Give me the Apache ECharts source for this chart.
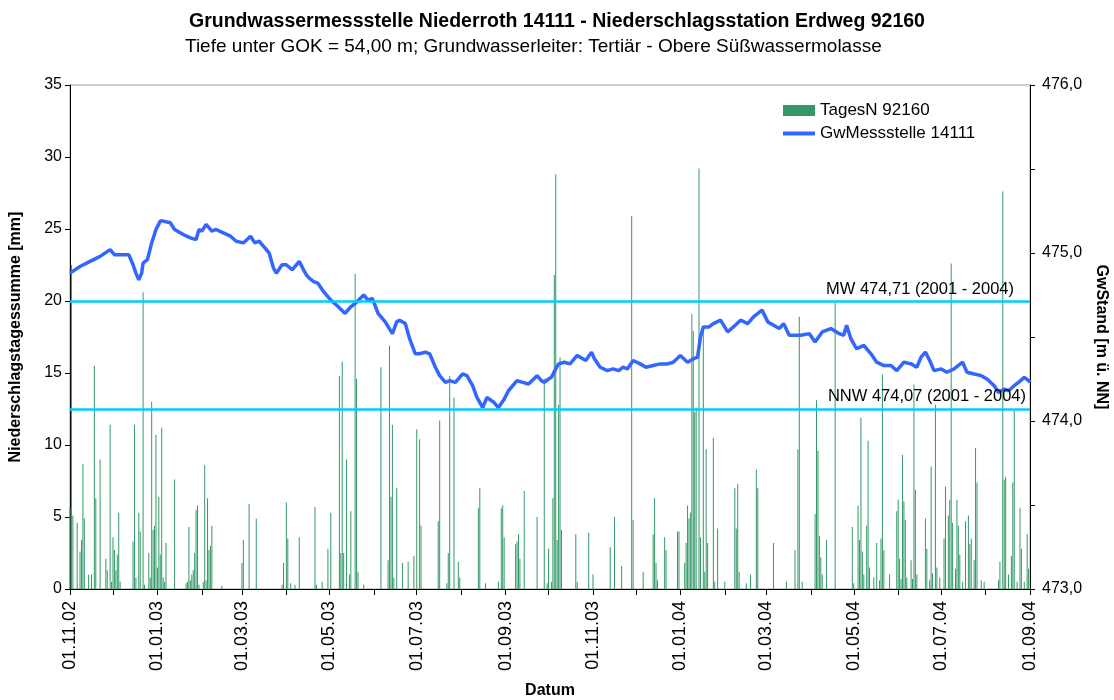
<!DOCTYPE html>
<html>
<head>
<meta charset="utf-8">
<script src="https://cdn.jsdelivr.net/npm/echarts@6/dist/echarts.min.js"></script>
<style>
  html, body { margin: 0; padding: 0; background: #fff; }
  #chart { width: 1114px; height: 700px; }
</style>
</head>
<body>
<div id="chart"></div>
<script>
// record runs daily from 01.11.2002 to 01.09.2004
const startDate = Date.UTC(2002, 10, 1);
const dayCount = 671;

// daily precipitation: [day since 01.11.02, mm]
const rain = [
  [0, 5.7], [1, 22.5], [2, 5.1], [5, 4.6], [7, 2.6], [8, 3.4], [9, 8.7], [10, 4.9], [13, 1.0], [15, 1.0],
  [17, 15.5], [18, 6.3], [21, 9.0], [25, 2.1], [26, 1.3], [28, 11.4], [29, 0.5], [30, 3.6], [31, 2.7], [32, 1.3],
  [33, 2.4], [34, 5.3], [35, 0.5], [44, 3.3], [45, 11.4], [46, 0.8], [48, 5.3], [49, 4.0], [51, 20.6], [52, 0.3],
  [55, 2.5], [56, 0.8], [57, 13.0], [58, 4.1], [59, 4.4], [60, 10.7], [61, 1.5], [62, 6.4], [63, 2.4], [64, 11.2],
  [65, 0.8], [66, 0.5], [67, 3.2], [73, 7.6], [81, 0.4], [82, 0.5], [83, 4.3], [84, 0.6], [85, 1.0], [86, 1.3],
  [87, 2.5], [88, 5.5], [89, 5.8], [90, 0.3], [93, 0.5], [94, 8.6], [95, 0.6], [96, 6.3], [97, 2.7], [98, 3.0],
  [99, 4.4], [106, 0.2], [120, 1.8], [121, 3.4], [125, 5.9], [130, 4.9], [148, 0.3], [149, 1.8], [151, 6.0], [152, 3.5],
  [154, 0.4], [157, 0.3], [160, 3.6], [171, 5.7], [172, 0.3], [176, 0.5], [180, 2.8], [182, 5.3], [188, 14.8], [189, 2.5],
  [190, 15.8], [191, 2.5], [193, 9.0], [195, 1.0], [196, 5.4], [199, 21.9], [200, 14.6], [201, 1.2], [205, 0.3], [217, 15.4],
  [222, 2.0], [223, 16.9], [224, 6.4], [225, 11.4], [226, 0.8], [228, 7.0], [232, 1.8], [236, 1.9], [240, 2.3], [242, 11.1],
  [244, 10.4], [245, 4.4], [257, 4.7], [258, 11.7], [263, 0.4], [264, 2.5], [265, 14.8], [268, 13.3], [271, 1.9], [272, 0.8],
  [285, 5.6], [286, 7.0], [290, 0.4], [299, 0.5], [301, 5.6], [302, 5.8], [303, 3.6], [311, 3.1], [312, 3.3], [313, 3.8],
  [314, 2.1], [317, 6.8], [326, 5.0], [331, 14.6], [333, 0.4], [334, 2.8], [336, 0.5], [337, 6.3], [338, 21.8], [339, 28.8],
  [340, 3.4], [341, 12.8], [342, 16.1], [343, 4.1], [353, 3.8], [354, 0.5], [362, 3.9], [365, 1.0], [377, 2.9], [380, 5.0],
  [385, 1.6], [392, 25.9], [393, 4.8], [400, 1.2], [407, 3.8], [408, 6.3], [409, 1.8], [410, 0.6], [415, 3.6], [416, 2.7],
  [424, 4.0], [425, 4.0], [429, 1.8], [430, 3.2], [431, 5.8], [432, 4.9], [433, 5.3], [434, 19.1], [435, 17.9], [436, 12.3],
  [437, 12.6], [439, 29.2], [440, 3.6], [442, 17.9], [443, 1.2], [444, 9.7], [445, 3.2], [449, 10.5], [450, 0.5], [452, 4.2],
  [457, 0.5], [464, 7.0], [465, 4.2], [466, 7.3], [467, 1.2], [472, 0.4], [475, 1.0], [479, 8.3], [480, 7.0], [491, 3.2],
  [500, 0.5], [506, 2.7], [508, 9.7], [509, 18.9], [511, 0.5], [520, 5.2], [521, 13.1], [522, 9.6], [523, 3.7], [524, 2.2],
  [525, 1.0], [528, 3.4], [534, 19.9], [546, 4.3], [547, 0.4], [550, 5.8], [551, 3.4], [552, 11.9], [553, 2.6], [554, 1.0],
  [556, 4.4], [557, 10.3], [558, 1.5], [561, 0.8], [563, 3.2], [565, 0.6], [566, 3.5], [567, 14.9], [568, 2.7], [572, 1.0],
  [577, 5.4], [578, 6.2], [579, 2.1], [580, 0.7], [581, 9.3], [582, 6.1], [583, 4.8], [584, 0.8], [587, 2.0], [588, 0.7],
  [589, 14.2], [590, 6.9], [591, 1.0], [597, 4.9], [598, 2.8], [600, 0.6], [601, 8.5], [602, 1.1], [604, 12.8], [605, 1.5],
  [607, 0.8], [610, 3.5], [611, 7.1], [613, 5.1], [614, 6.2], [615, 22.6], [616, 4.6], [618, 1.4], [619, 6.2], [620, 4.4],
  [621, 2.4], [623, 0.5], [625, 4.7], [627, 5.1], [628, 3.1], [629, 3.5], [631, 2.0], [632, 9.8], [633, 7.4], [636, 0.6],
  [638, 0.5], [648, 0.6], [649, 1.9], [651, 27.6], [652, 7.6], [653, 7.8], [655, 1.0], [657, 2.3], [658, 7.4], [659, 12.4],
  [661, 0.5], [663, 5.6], [664, 2.8], [666, 0.5], [668, 3.8], [669, 1.4]
];

// groundwater level: [day since 01.11.02, m ü. NN]
const gwLevel = [
  [0, 474.88], [7, 474.92], [14, 474.95], [21, 474.98], [28, 475.02], [31, 474.99], [35, 474.99], [41, 474.99], [44, 474.93], [46, 474.88],
  [48, 474.84], [50, 474.88], [51, 474.94], [54, 474.96], [57, 475.06], [60, 475.14], [63, 475.19], [65, 475.19], [70, 475.18], [73, 475.14],
  [79, 475.11], [84, 475.09], [88, 475.08], [90, 475.14], [92, 475.13], [95, 475.17], [99, 475.13], [102, 475.14], [107, 475.12], [112, 475.10],
  [116, 475.07], [121, 475.06], [126, 475.10], [129, 475.06], [132, 475.07], [136, 475.03], [139, 475.00], [142, 474.91], [144, 474.88], [148, 474.93],
  [151, 474.93], [155, 474.90], [160, 474.95], [163, 474.90], [165, 474.87], [167, 474.85], [170, 474.83], [173, 474.82], [177, 474.77], [182, 474.72],
  [186, 474.69], [192, 474.64], [196, 474.68], [199, 474.70], [205, 474.75], [208, 474.72], [211, 474.73], [215, 474.64], [220, 474.59], [225, 474.52],
  [228, 474.59], [230, 474.60], [234, 474.58], [237, 474.49], [241, 474.40], [244, 474.40], [248, 474.41], [251, 474.40], [255, 474.32], [258, 474.27],
  [262, 474.23], [265, 474.24], [269, 474.23], [274, 474.28], [277, 474.27], [281, 474.21], [284, 474.14], [288, 474.08], [291, 474.14], [296, 474.11],
  [299, 474.08], [303, 474.13], [306, 474.18], [312, 474.24], [316, 474.23], [320, 474.22], [326, 474.27], [329, 474.24], [331, 474.23], [334, 474.25],
  [336, 474.26], [339, 474.31], [341, 474.34], [345, 474.35], [349, 474.34], [354, 474.39], [360, 474.36], [364, 474.41], [366, 474.37], [370, 474.32],
  [375, 474.30], [379, 474.31], [383, 474.30], [386, 474.32], [389, 474.31], [393, 474.36], [398, 474.34], [402, 474.32], [407, 474.33], [412, 474.34],
  [417, 474.34], [421, 474.35], [426, 474.39], [431, 474.35], [435, 474.37], [438, 474.38], [440, 474.50], [442, 474.56], [446, 474.56], [449, 474.58],
  [454, 474.60], [459, 474.53], [463, 474.56], [468, 474.60], [473, 474.58], [477, 474.62], [483, 474.66], [487, 474.59], [491, 474.57], [495, 474.55],
  [498, 474.58], [502, 474.51], [506, 474.51], [510, 474.51], [516, 474.52], [520, 474.47], [525, 474.53], [531, 474.55], [537, 474.52], [540, 474.51],
  [542, 474.57], [545, 474.49], [549, 474.43], [554, 474.45], [559, 474.40], [563, 474.35], [568, 474.33], [573, 474.33], [577, 474.30], [582, 474.35],
  [587, 474.34], [591, 474.32], [594, 474.38], [597, 474.41], [600, 474.36], [603, 474.30], [608, 474.31], [612, 474.29], [617, 474.31], [623, 474.35],
  [626, 474.29], [631, 474.28], [636, 474.27], [640, 474.25], [645, 474.21], [648, 474.17], [652, 474.19], [655, 474.18], [659, 474.21], [662, 474.23],
  [666, 474.26], [669, 474.24], [670, 474.23]
];

// reference levels (MW / NNW 2001 - 2004)
const refLevels = [474.71, 474.07];
const refLabels = ['MW 474,71 (2001 - 2004)', 'NNW 474,07 (2001 - 2004)'];

const days = [];
for (let i = 0; i < dayCount; i++) {
  days.push(new Date(startDate + i * 86400000).toISOString().slice(0, 10));
}
const barData = days.map(() => null);
rain.forEach(([d, v]) => { barData[d] = v; });
const lineData = days.map(() => null);
gwLevel.forEach(([d, v]) => { lineData[d] = v; });

const font = 'Liberation Sans, Arial, sans-serif';
const isFirstOfMonth = (i, v) => v.slice(8) === '01';

const chart = echarts.init(document.getElementById('chart'));
chart.setOption({
  animation: false,
  textStyle: { fontFamily: font, color: '#000' },
  title: [
    {
      text: 'Grundwassermessstelle Niederroth 14111 - Niederschlagsstation Erdweg 92160',
      left: 'center',
      top: 7,
      textStyle: { fontFamily: font, fontSize: 19.5, fontWeight: 'bold', color: '#000' }
    },
    {
      text: 'Tiefe unter GOK = 54,00 m; Grundwasserleiter: Tertiär - Obere Süßwassermolasse',
      left: 180,
      top: 32,
      textStyle: { fontFamily: font, fontSize: 19, fontWeight: 'normal', color: '#000' }
    }
  ],
  legend: {
    orient: 'vertical',
    left: 778,
    top: 97,
    itemWidth: 32,
    itemHeight: 11,
    itemGap: 6,
    textStyle: { fontFamily: font, fontSize: 17, color: '#000' },
    data: [
      { name: 'TagesN 92160', icon: 'rect' },
      { name: 'GwMessstelle 14111', icon: 'path://M0,0H32V4H0Z' }
    ]
  },
  grid: {
    left: 70,
    right: 84,
    top: 85,
    bottom: 111,
    outerBoundsMode: 'none',
    show: true,
    borderColor: '#a0a0a0',
    borderWidth: 1
  },
  xAxis: {
    type: 'category',
    data: days,
    boundaryGap: false,
    name: 'Datum',
    nameLocation: 'middle',
    nameGap: 94,
    nameTextStyle: { fontFamily: font, fontSize: 16, fontWeight: 'bold', color: '#000' },
    axisLine: { lineStyle: { color: '#000', width: 1 } },
    axisTick: { interval: isFirstOfMonth, length: 6, lineStyle: { color: '#000' } },
    axisLabel: {
      interval: (i, v) => v.slice(8) === '01' && Number(v.slice(5, 7)) % 2 === 1,
      rotate: 90,
      margin: 12,
      fontSize: 18,
      color: '#000',
      formatter: v => v.slice(8, 10) + '.' + v.slice(5, 7) + '.' + v.slice(2, 4)
    },
    splitLine: { show: false }
  },
  yAxis: [
    {
      type: 'value',
      position: 'left',
      min: 0,
      max: 35,
      interval: 5,
      name: 'Niederschlagstagessumme [mm]',
      nameLocation: 'middle',
      nameGap: 46,
      nameTextStyle: { fontFamily: font, fontSize: 16, fontWeight: 'bold', color: '#000' },
      axisLine: { show: true, lineStyle: { color: '#000' } },
      axisTick: { show: true, length: 5, lineStyle: { color: '#000' } },
      axisLabel: { fontSize: 16, color: '#000', margin: 8 },
      splitLine: { show: false }
    },
    {
      type: 'value',
      position: 'right',
      min: 473,
      max: 476,
      interval: 0.5,
      name: 'GwStand [m ü. NN]',
      nameLocation: 'middle',
      nameRotate: -90,
      nameGap: 62,
      nameTextStyle: { fontFamily: font, fontSize: 16, fontWeight: 'bold', color: '#000' },
      axisLine: { show: true, lineStyle: { color: '#000' } },
      axisTick: { show: true, length: 5, lineStyle: { color: '#000' } },
      axisLabel: {
        fontSize: 16,
        color: '#000',
        margin: 12,
        formatter: v => (Math.abs(v - Math.round(v)) < 1e-6 ? v.toFixed(1).replace('.', ',') : '')
      },
      splitLine: { show: false }
    }
  ],
  series: [
    {
      name: 'TagesN 92160',
      type: 'bar',
      yAxisIndex: 0,
      data: barData,
      barWidth: 1,
      itemStyle: { color: '#339966' },
      z: 2
    },
    {
      name: 'GwMessstelle 14111',
      type: 'line',
      yAxisIndex: 1,
      data: lineData,
      connectNulls: true,
      showSymbol: false,
      symbol: 'none',
      lineStyle: { color: '#3366ff', width: 3.5 },
      itemStyle: { color: '#3366ff' },
      z: 4,
      markLine: {
        silent: true,
        symbol: ['none', 'none'],
        lineStyle: { color: '#00ccff', width: 2.5, type: 'solid' },
        label: { position: 'insideEndTop', fontFamily: font, fontSize: 16.5, color: '#000', distance: 4 },
        data: refLevels.map((v, i) => ({
          yAxis: v,
          label: { formatter: refLabels[i], padding: i === 0 ? [0, 12, 0, 0] : [0, 0, 0, 0] }
        }))
      }
    }
  ]
});
</script>
</body>
</html>
